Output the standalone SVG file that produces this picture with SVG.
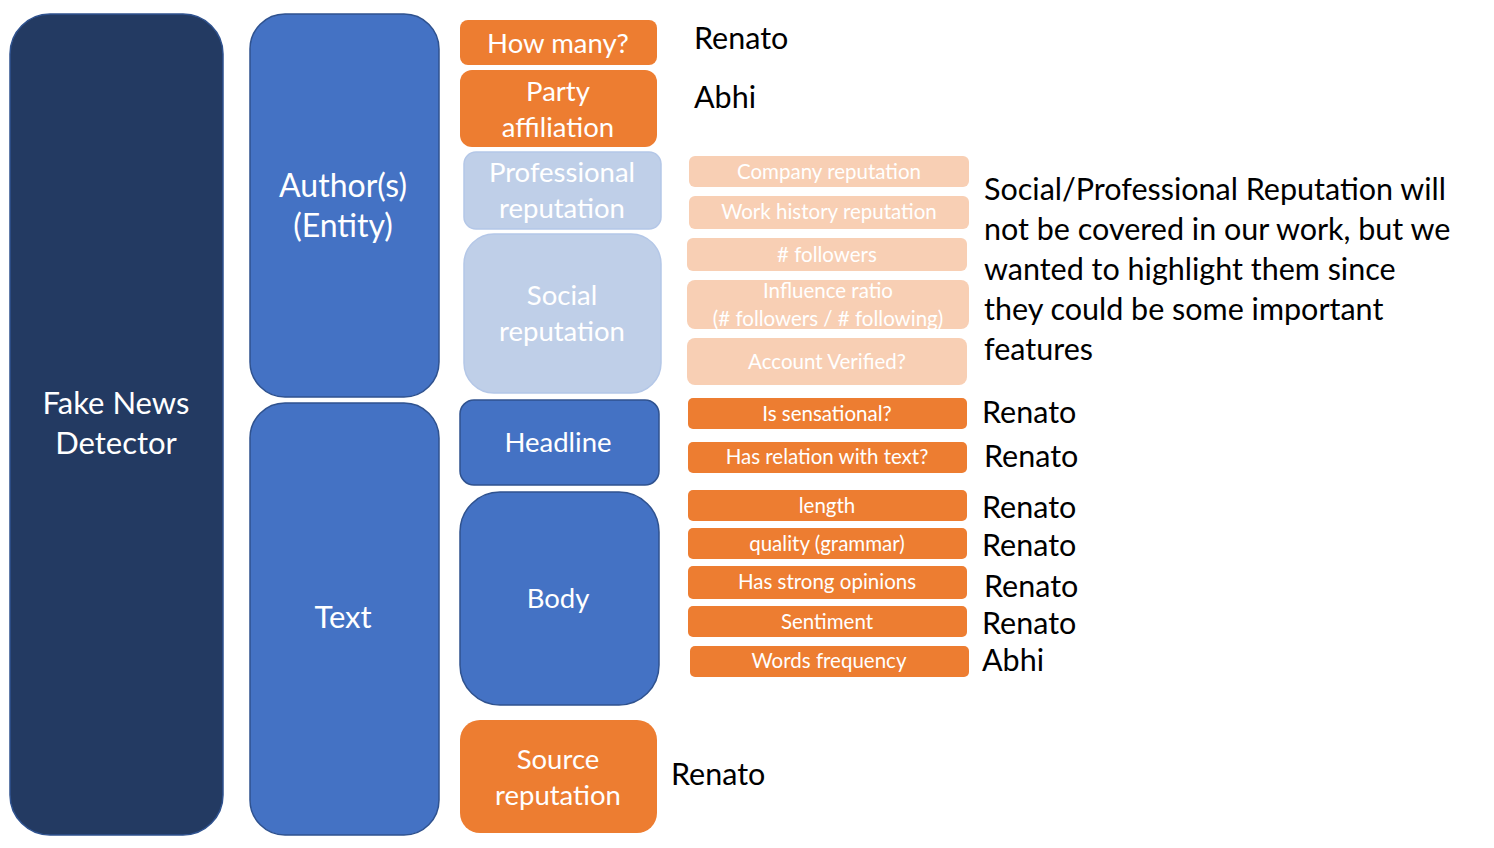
<svg xmlns="http://www.w3.org/2000/svg" width="1494" height="848" viewBox="0 0 1494 848">
<style>
text{font-family:"Lato","Liberation Sans",sans-serif}
.w{fill:#fff;text-anchor:middle}
.big{font-size:31px}
.mid{font-size:27.5px}
.sm{font-size:20.5px}
.k{fill:#000;font-size:30.5px}
.navy{fill:#233A62;stroke:#2F528F;stroke-width:1.5}
.blue{fill:#4472C4;stroke:#2F528F;stroke-width:1.5}
.lblue{fill:#BFCFE8;stroke:#B4C7E7;stroke-width:1.5}
.or{fill:#ED7D31}
.lor{fill:#F8CFB4}
</style>
<rect width="1494" height="848" fill="#fff"/>
<g id="fake-news-detector"><rect class="navy" x="10" y="14" width="213" height="821" rx="40"/><text class="w big" x="116" y="414">Fake News</text><text class="w big" x="116" y="454">Detector</text></g>
<g id="authors"><rect class="blue" x="250" y="14" width="189" height="383" rx="35"/><text class="w big" x="343" y="197" style="font-size:32px">Author(s)</text><text class="w big" x="343" y="237" style="font-size:32px">(Entity)</text></g>
<g id="text"><rect class="blue" x="250" y="403" width="189" height="432" rx="35"/><text class="w big" x="343" y="628">Text</text></g>
<g id="how-many"><rect class="or" x="460" y="20" width="197" height="45" rx="8"/><text class="w mid" x="558" y="53">How many?</text></g>
<g id="party"><rect class="or" x="460" y="70" width="197" height="77" rx="12"/><text class="w mid" x="558" y="101">Party</text><text class="w mid" x="558" y="137">affiliation</text></g>
<g id="professional"><rect class="lblue" x="464" y="152" width="197" height="77" rx="12"/><text class="w mid" x="562" y="182">Professional</text><text class="w mid" x="562" y="218">reputation</text></g>
<g id="social"><rect class="lblue" x="464" y="234" width="197" height="159" rx="30"/><text class="w mid" x="562" y="305">Social</text><text class="w mid" x="562" y="341">reputation</text></g>
<g id="headline"><rect class="blue" x="460" y="400" width="199" height="85" rx="14"/><text class="w mid" x="558" y="452">Headline</text></g>
<g id="body"><rect class="blue" x="460" y="492" width="199" height="213" rx="40"/><text class="w mid" x="558" y="608">Body</text></g>
<g id="source"><rect class="or" x="460" y="720" width="197" height="113" rx="20"/><text class="w mid" x="558" y="769">Source</text><text class="w mid" x="558" y="805">reputation</text></g>
<g id="company"><rect class="lor" x="689" y="156" width="280" height="31" rx="6"/><text class="w sm" x="829" y="179">Company reputation</text></g>
<g id="work"><rect class="lor" x="689" y="196" width="280" height="33" rx="6"/><text class="w sm" x="829" y="219">Work history reputation</text></g>
<g id="followers"><rect class="lor" x="687" y="238" width="280" height="33" rx="6"/><text class="w sm" x="827" y="262"># followers</text></g>
<g id="influence"><rect class="lor" x="687" y="280" width="282" height="49" rx="8"/><text class="w sm" x="828" y="298">Influence ratio</text><text class="w sm" x="828" y="326">(# followers / # following)</text></g>
<g id="verified"><rect class="lor" x="687" y="338" width="280" height="47" rx="8"/><text class="w sm" x="827" y="369">Account Verified?</text></g>
<g id="sensational"><rect class="or" x="688" y="398" width="279" height="31" rx="5"/><text class="w sm" x="827" y="421">Is sensational?</text></g>
<g id="relation"><rect class="or" x="688" y="442" width="279" height="31" rx="5"/><text class="w sm" x="827" y="464">Has relation with text?</text></g>
<g id="length"><rect class="or" x="688" y="490" width="279" height="31" rx="5"/><text class="w sm" x="827" y="513">length</text></g>
<g id="quality"><rect class="or" x="688" y="528" width="279" height="31" rx="5"/><text class="w sm" x="827" y="551">quality (grammar)</text></g>
<g id="opinions"><rect class="or" x="688" y="566" width="279" height="33" rx="5"/><text class="w sm" x="827" y="589">Has strong opinions</text></g>
<g id="sentiment"><rect class="or" x="688" y="606" width="279" height="31" rx="5"/><text class="w sm" x="827" y="629">Sentiment</text></g>
<g id="words"><rect class="or" x="690" y="646" width="279" height="31" rx="5"/><text class="w sm" x="829" y="668">Words frequency</text></g>
<g id="labels">
<text class="k" x="694" y="49">Renato</text>
<text class="k" x="694" y="108">Abhi</text>
<text class="k" x="982" y="423">Renato</text>
<text class="k" x="984" y="467">Renato</text>
<text class="k" x="982" y="518">Renato</text>
<text class="k" x="982" y="556">Renato</text>
<text class="k" x="984" y="597">Renato</text>
<text class="k" x="982" y="634">Renato</text>
<text class="k" x="982" y="671">Abhi</text>
<text class="k" x="671" y="785">Renato</text>
</g>
<g id="note">
<text class="k" x="984" y="200">Social/Professional Reputation will</text>
<text class="k" x="984" y="240">not be covered in our work, but we</text>
<text class="k" x="984" y="280">wanted to highlight them since</text>
<text class="k" x="984" y="320">they could be some important</text>
<text class="k" x="984" y="360">features</text>
</g>
<g id="connectors"/>
</svg>
